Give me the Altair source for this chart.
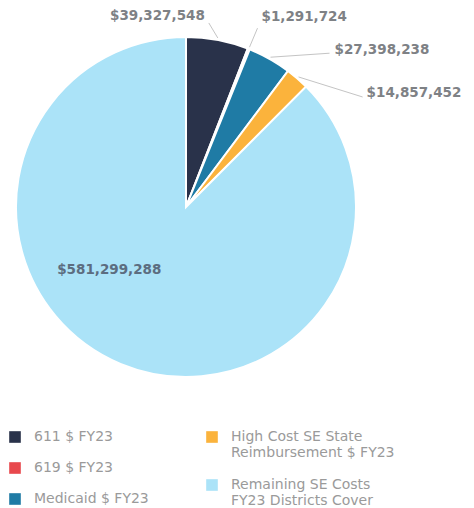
import altair as alt
import pandas as pd

# ---- data ----
categories = [
    "611 $ FY23",
    "619 $ FY23",
    "Medicaid $ FY23",
    "High Cost SE State Reimbursement $ FY23",
    "Remaining SE Costs FY23 Districts Cover",
]
values = [39327548, 1291724, 27398238, 14857452, 581299288]
value_labels = ["$39,327,548", "$1,291,724", "$27,398,238", "$14,857,452", "$581,299,288"]
colors = ["#29324a", "#e8484d", "#1f7ba5", "#fbb33c", "#abe3f8"]

# ---- layout (pixels, plot coordinates) ----
W, H = 458, 492
CX, CY, R = 178, 199, 170
# offsets of leader end / text anchor from the slice's outer mid point
leader_off = {0: (-9, -15), 1: (8, -19), 2: (59, -4), 3: (64, 20), 4: (0, 0)}
text_off = {0: (-13, -22), 1: (12, -30), 2: (64, -7), 3: (68, 16), 4: (-11, -96)}
text_align = {0: "right", 1: "left", 2: "left", 3: "left", 4: "center"}

df = pd.DataFrame({
    "category": categories,
    "value": values,
    "label": value_labels,
    "order": list(range(len(categories))),
    "lx": [leader_off[i][0] for i in range(5)],
    "ly": [leader_off[i][1] for i in range(5)],
    "tx": [text_off[i][0] for i in range(5)],
    "ty": [text_off[i][1] for i in range(5)],
    "align": [text_align[i] for i in range(5)],
})

label_expr = (
    "datum.label == 'High Cost SE State Reimbursement $ FY23' ? ['High Cost SE State', 'Reimbursement $ FY23'] : "
    "datum.label == 'Remaining SE Costs FY23 Districts Cover' ? ['Remaining SE Costs', 'FY23 Districts Cover'] : datum.label"
)

base = alt.Chart(df)


def legend_kw(vals, lx, ly, rowpad):
    return alt.Legend(
        title=None,
        orient="none",
        legendX=lx,
        legendY=ly,
        values=vals,
        direction="vertical",
        rowPadding=rowpad,
        symbolType="square",
        symbolSize=135,
        symbolStrokeWidth=0,
        labelFontSize=14,
        labelFont="DejaVu Sans",
        labelColor="#9a9a9a",
        labelLimit=300,
        labelOffset=12,
        labelExpr=label_expr,
    )


def pie_layer(legend):
    return base.mark_arc(outerRadius=R, stroke="white", strokeWidth=2).encode(
        theta=alt.Theta("value:Q", stack=True),
        order=alt.Order("order:Q", sort="ascending"),
        color=alt.Color(
            "category:N",
            sort=categories,
            scale=alt.Scale(domain=categories, range=colors),
            legend=legend,
        ),
        x=alt.value(CX),
        y=alt.value(CY),
    )


pie1 = pie_layer(legend_kw(categories[:3], 0, 422, 17))
pie2 = pie_layer(legend_kw(categories[3:], 197, 422, 18))

geo = base.transform_joinaggregate(
    total="sum(value)"
).transform_window(
    cum="sum(value)", sort=[alt.SortField("order", order="ascending")], frame=[None, 0]
).transform_calculate(
    mid="2*PI*(datum.cum - datum.value/2)/datum.total",
).transform_calculate(
    ex=f"{CX} + {R + 2}*sin(datum.mid)",
    ey=f"{CY} - {R + 2}*cos(datum.mid)",
).transform_calculate(
    ex2="datum.ex + datum.lx",
    ey2="datum.ey + datum.ly",
    px="datum.ex + datum.tx",
    py="datum.ey + datum.ty",
)

leaders = geo.transform_filter("datum.order < 4").mark_rule(
    color="#c4c4c4", strokeWidth=1
).encode(
    x=alt.X("ex:Q", scale=None),
    y=alt.Y("ey:Q", scale=None),
    x2="ex2:Q",
    y2="ey2:Q",
)


def text_layer(align, cond, size, color):
    return geo.transform_filter(cond).mark_text(
        align=align, baseline="middle", font="DejaVu Sans", fontSize=size,
        fontWeight="bold", color=color,
    ).encode(
        x=alt.X("px:Q", scale=None),
        y=alt.Y("py:Q", scale=None),
        text="label:N",
    )


labels = alt.layer(
    text_layer("right", "datum.align == 'right'", 13.5, "#7e8185"),
    text_layer("left", "datum.align == 'left'", 13.5, "#7e8185"),
    text_layer("center", "datum.align == 'center'", 13.5, "#5c6d80"),
)

chart = alt.layer(pie1, pie2, leaders, labels).resolve_scale(
    color="independent"
).resolve_legend(color="independent").properties(
    width=W, height=H, padding=0
).configure_view(stroke=None)

chart.save("out.html", embed_options={"renderer": "svg", "actions": False})
